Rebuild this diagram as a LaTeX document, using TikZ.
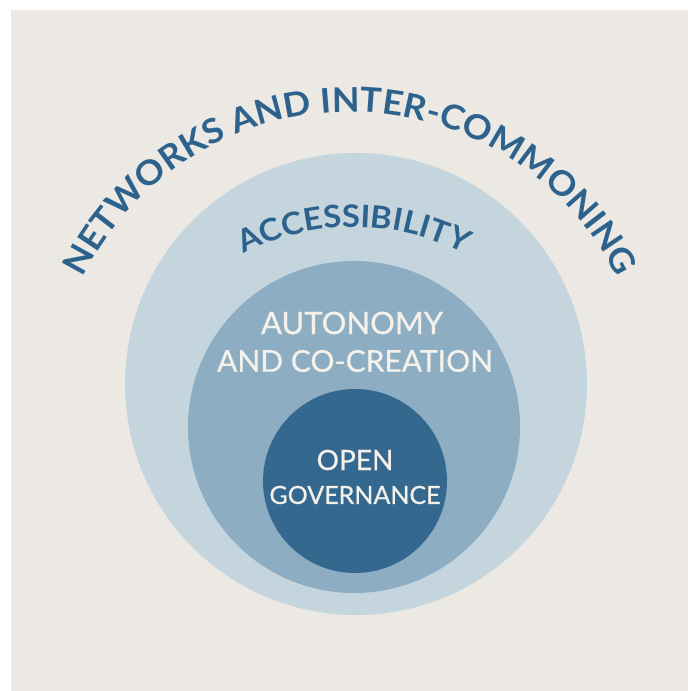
\documentclass[tikz,border=0pt]{standalone}
\usepackage{fontspec}
\setmainfont{Lato}
\newfontfamily\arcfont{Lato}[FakeStretch=1.06]
\newfontfamily\labelfont{Lato}[FakeBold=0.6]
\usetikzlibrary{decorations.text}

\definecolor{paper}{HTML}{ECE9E4}
\definecolor{ringouter}{HTML}{C5D5DE}
\definecolor{ringmiddle}{HTML}{8CADC2}
\definecolor{ringinner}{HTML}{34688F}
\definecolor{inkblue}{HTML}{2D628C}
\definecolor{inkwhite}{HTML}{F4F1EB}

\tikzset{
  ring/.style={circle, inner sep=0pt, draw=none},
  whitelabel/.style={text=inkwhite, inner sep=0pt, align=center},
}

\begin{document}
\begin{tikzpicture}[x=1pt,y=1pt]
  \useasboundingbox (0,0) rectangle (688,691);
  \fill[white] (0,0) rectangle (688,691);
  \fill[paper] (11,0) rectangle (688,681);

  % nested circles
  \node[ring, fill=ringouter, minimum size=462pt] (outer) at (356,307) {};
  \node[ring, fill=ringmiddle, minimum size=332pt] (middle) at (354,264) {};
  \node[ring, fill=ringinner, minimum size=184pt] (inner) at (355,210) {};

  % curved headings
  \path[decorate, decoration={text along path, text align=center,
      text color=inkblue,
      text={|\arcfont\fontsize{34}{34}\selectfont\bfseries|NETWORKS AND INTER-COMMONING}}]
    (350,281) ++(170:298) arc[start angle=170, end angle=10, radius=298];
  \path[decorate, decoration={text along path, text align=center,
      text color=inkblue,
      text={|\arcfont\fontsize{31}{31}\selectfont\bfseries|ACCESSIBILITY}}]
    (354,225) ++(145:239) arc[start angle=145, end angle=35, radius=239];

  % labels inside the circles
  \node[whitelabel, font=\labelfont\fontsize{31}{31}\selectfont] (auto) at (352,368) {AUTONOMY};
  \node[whitelabel, font=\labelfont\fontsize{30}{30}\selectfont] (cocreate) at (355,330) {AND CO-CREATION};
  \node[whitelabel, font=\labelfont\fontsize{28}{28}\selectfont] (open) at (355,231) {OPEN};
  \node[whitelabel, font=\labelfont\fontsize{25}{25}\selectfont] (gov) at (355,196) {GOVERNANCE};
\end{tikzpicture}
\end{document}
